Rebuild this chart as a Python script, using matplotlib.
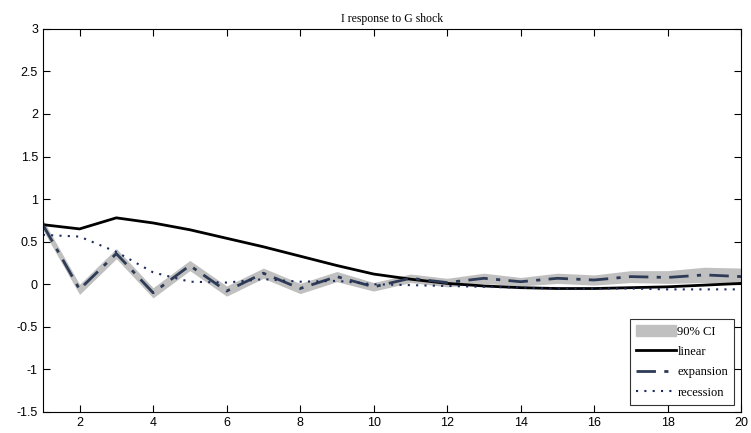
import numpy as np
import matplotlib.pyplot as plt
from matplotlib.patches import Patch
from matplotlib.lines import Line2D

horizon = np.arange(1, 21)
linear = [0.70, 0.65, 0.78, 0.72, 0.64, 0.54, 0.44, 0.33, 0.22, 0.12,
          0.06, 0.01, -0.02, -0.04, -0.05, -0.05, -0.04, -0.03, -0.01, 0.01]
expansion = [0.70, -0.06, 0.36, -0.10, 0.22, -0.08, 0.13, -0.05, 0.09, -0.03,
             0.07, 0.02, 0.07, 0.03, 0.07, 0.05, 0.09, 0.08, 0.11, 0.09]
recession = [0.58, 0.56, 0.38, 0.14, 0.03, 0.02, 0.06, 0.03, 0.04, 0.00,
             -0.01, -0.02, -0.03, -0.04, -0.05, -0.05, -0.05, -0.06, -0.06, -0.06]
ci_lower = [0.64, -0.12, 0.30, -0.16, 0.16, -0.14, 0.07, -0.11, 0.03, -0.08,
            0.02, -0.03, 0.01, -0.02, 0.01, -0.01, 0.02, 0.01, 0.02, 0.00]
ci_upper = [0.76, 0.00, 0.42, -0.04, 0.28, -0.02, 0.19, 0.01, 0.15, 0.02,
            0.12, 0.07, 0.13, 0.08, 0.13, 0.11, 0.16, 0.16, 0.20, 0.19]

fig = plt.figure(figsize=(7.51, 4.33), dpi=100)
ax = fig.add_axes([0.057, 0.0485, 0.930, 0.885])

ax.fill_between(horizon, ci_lower, ci_upper, color='#c0c0c0', lw=0)
ax.plot(horizon, linear, color='black', lw=2)
ax.plot(horizon, expansion, color='#2e3b56', lw=2, dashes=(7, 3, 1.5, 3))
ax.plot(horizon, recession, color='#1c2c5c', lw=1.5, ls=(0, (1, 3)))

ax.set_xlim(1, 20)
ax.set_ylim(-1.5, 3)
ax.set_xticks(np.arange(2, 21, 2))
ax.set_yticks(np.arange(-1.5, 3.01, 0.5))
ax.set_yticklabels(['-1.5', '-1', '-0.5', '0', '0.5', '1', '1.5', '2', '2.5', '3'])
ax.tick_params(direction='in', top=True, right=True, labelsize=9, length=5)
for lab in ax.get_xticklabels() + ax.get_yticklabels():
    lab.set_family('Liberation Sans')
ax.set_title('I response to G shock', family='Liberation Serif', fontsize=8.5, pad=5)

handles = [Patch(color='#c0c0c0'),
           Line2D([], [], color='black', lw=2),
           Line2D([], [], color='#2e3b56', lw=2, dashes=(7, 3, 1.5, 3)),
           Line2D([], [], color='#1c2c5c', lw=1.5, ls=(0, (1, 3)))]
leg = ax.legend(handles, ['90% CI', 'linear', 'expansion', 'recession'],
                loc='lower right', fancybox=False, edgecolor='black',
                prop={'family': 'Liberation Serif', 'size': 9},
                handlelength=3.2, handleheight=1.0, borderaxespad=0.55,
                labelspacing=0.6, handletextpad=0.1, borderpad=0.5)
leg.get_frame().set_linewidth(0.8)

plt.savefig('out.png', dpi=100)
